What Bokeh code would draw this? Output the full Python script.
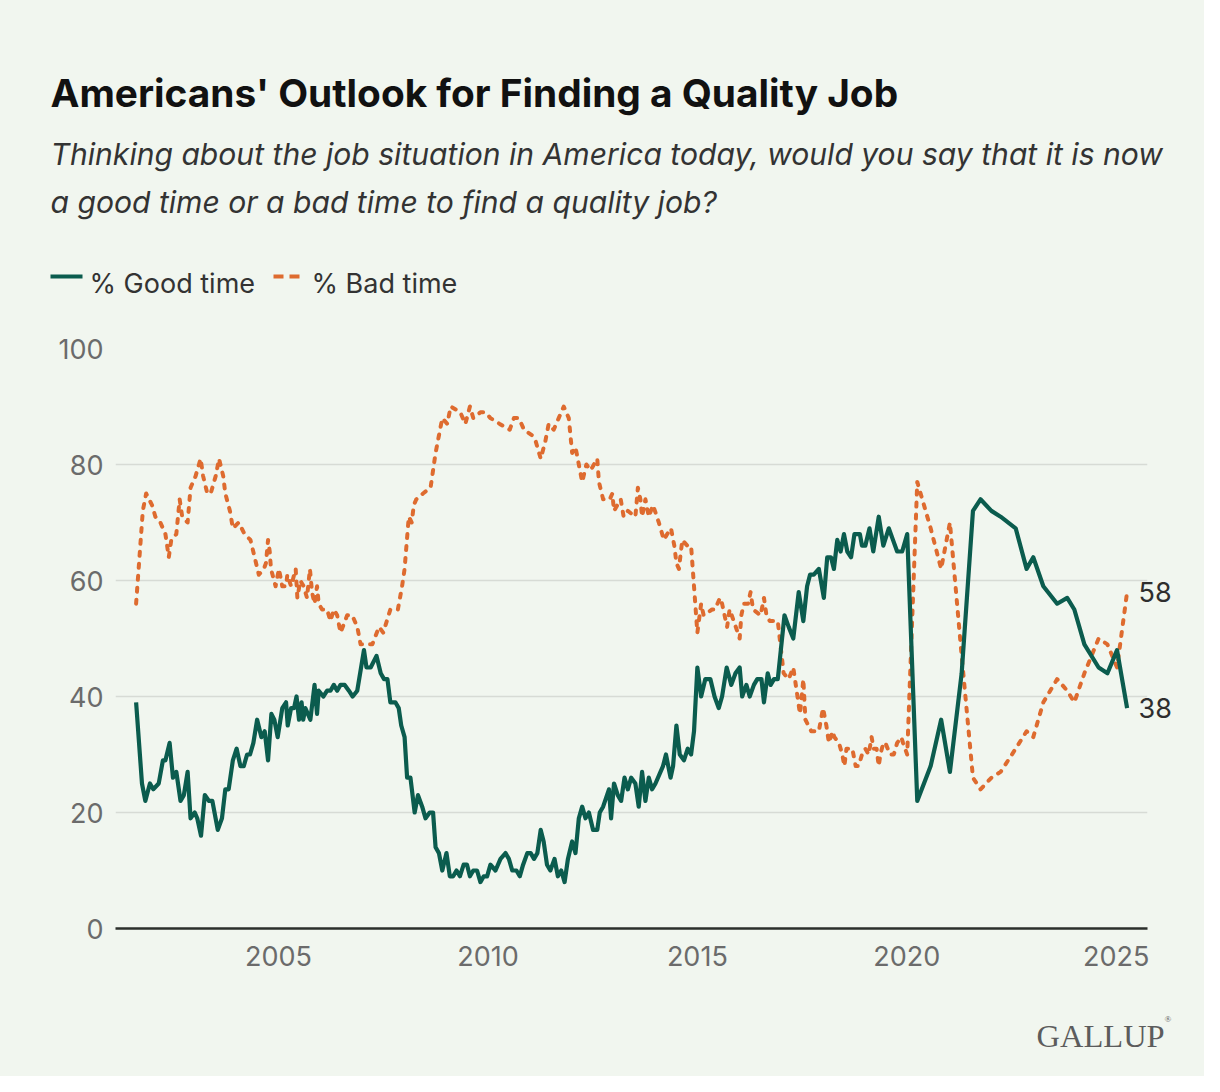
from bokeh.plotting import figure
from bokeh.layouts import column
from bokeh.models import Range1d, FixedTicker, Label, Arrow, LinearAxis
from bokeh.embed import file_html
from bokeh.resources import INLINE

# ---------------- data ----------------
good_year = [2001.60, 2001.74, 2001.82, 2001.93, 2002.01, 2002.14, 2002.24, 2002.30, 2002.40, 2002.48,
             2002.56, 2002.66, 2002.74, 2002.83, 2002.90, 2003.00, 2003.06, 2003.15, 2003.24, 2003.34,
             2003.42, 2003.55, 2003.65, 2003.73, 2003.81, 2003.91, 2004.00, 2004.09, 2004.17, 2004.25,
             2004.32, 2004.40, 2004.49, 2004.59, 2004.67, 2004.75, 2004.83, 2004.90, 2004.98, 2005.09,
             2005.18, 2005.22, 2005.30, 2005.37, 2005.43, 2005.49, 2005.55, 2005.59, 2005.64, 2005.70,
             2005.76, 2005.86, 2005.92, 2005.96, 2006.07, 2006.16, 2006.24, 2006.32, 2006.40, 2006.48,
             2006.58, 2006.68, 2006.77, 2006.88, 2007.04, 2007.10, 2007.20, 2007.34, 2007.44, 2007.52,
             2007.60, 2007.67, 2007.79, 2007.87, 2007.93, 2008.01, 2008.07, 2008.15, 2008.25, 2008.33,
             2008.43, 2008.51, 2008.61, 2008.69, 2008.75, 2008.83, 2008.91, 2009.01, 2009.09, 2009.17,
             2009.25, 2009.33, 2009.42, 2009.50, 2009.57, 2009.65, 2009.74, 2009.82, 2009.90, 2009.98,
             2010.06, 2010.18, 2010.30, 2010.42, 2010.50, 2010.58, 2010.68, 2010.76, 2010.84, 2010.94,
             2011.02, 2011.10, 2011.18, 2011.26, 2011.33, 2011.41, 2011.49, 2011.59, 2011.67, 2011.75,
             2011.83, 2011.91, 2012.01, 2012.09, 2012.17, 2012.25, 2012.33, 2012.41, 2012.51, 2012.61,
             2012.67, 2012.75, 2012.89, 2012.94, 2013.01, 2013.10, 2013.18, 2013.26, 2013.34, 2013.42,
             2013.52, 2013.60, 2013.68, 2013.76, 2013.84, 2013.92, 2014.00, 2014.12, 2014.18, 2014.25,
             2014.36, 2014.42, 2014.50, 2014.58, 2014.68, 2014.77, 2014.85, 2014.92, 2015.00, 2015.09,
             2015.19, 2015.31, 2015.41, 2015.51, 2015.59, 2015.70, 2015.81, 2015.91, 2016.01, 2016.07,
             2016.17, 2016.25, 2016.35, 2016.43, 2016.53, 2016.59, 2016.68, 2016.75, 2016.83, 2016.92,
             2017.08, 2017.18, 2017.29, 2017.42, 2017.53, 2017.62, 2017.69, 2017.78, 2017.90, 2018.02,
             2018.10, 2018.19, 2018.26, 2018.34, 2018.42, 2018.50, 2018.58, 2018.67, 2018.75, 2018.88,
             2018.93, 2019.01, 2019.11, 2019.20, 2019.33, 2019.44, 2019.57, 2019.67, 2019.77, 2019.89,
             2020.01, 2020.25, 2020.57, 2020.82, 2021.03, 2021.31, 2021.58, 2021.76, 2022.02, 2022.24,
             2022.60, 2022.86, 2023.02, 2023.26, 2023.59, 2023.83, 2024.00, 2024.24, 2024.58, 2024.79,
             2025.02, 2025.26]
good_pct = [39, 25, 22, 25, 24, 25, 29, 29, 32, 26,
            27, 22, 23, 27, 19, 20, 19, 16, 23, 22,
            22, 17, 19, 24, 24, 29, 31, 28, 28, 30,
            30, 32, 36, 33, 34, 29, 37, 36, 33, 38,
            39, 35, 38, 38, 40, 36, 39, 36, 38, 37,
            36, 42, 37, 41, 40, 41, 41, 42, 41, 42,
            42, 41, 40, 41, 48, 45, 45, 47, 44, 43,
            43, 39, 39, 38, 35, 33, 26, 26, 20, 23,
            21, 19, 20, 20, 14, 13, 10, 13, 9, 9,
            10, 9, 11, 11, 9, 10, 10, 8, 9, 9,
            11, 10, 12, 13, 12, 10, 10, 9, 11, 13,
            13, 12, 13, 17, 15, 11, 10, 12, 9, 10,
            8, 12, 15, 13, 19, 21, 19, 20, 17, 17,
            20, 21, 24, 19, 25, 23, 22, 26, 24, 26,
            25, 21, 27, 22, 26, 24, 25, 27, 28, 30,
            26, 28, 35, 30, 29, 31, 30, 34, 45, 40,
            43, 43, 40, 38, 40, 45, 42, 44, 45, 40,
            42, 40, 42, 43, 43, 39, 44, 42, 43, 43,
            54, 52, 50, 58, 53, 59, 61, 61, 62, 57,
            64, 64, 62, 67, 65, 68, 65, 64, 68, 68,
            66, 66, 69, 65, 71, 66, 69, 67, 65, 65,
            68, 22, 28, 36, 27, 44, 72, 74, 72, 71,
            69, 62, 64, 59, 56, 57, 55, 49, 45, 44,
            48, 38]

bad_year = [2001.60, 2001.76, 2001.84, 2001.98, 2002.06, 2002.18, 2002.30, 2002.38, 2002.44, 2002.56,
            2002.64, 2002.70, 2002.83, 2002.90, 2003.02, 2003.14, 2003.20, 2003.30, 2003.38, 2003.50,
            2003.58, 2003.68, 2003.73, 2003.84, 2003.91, 2004.05, 2004.19, 2004.33, 2004.43, 2004.53,
            2004.65, 2004.70, 2004.75, 2004.79, 2004.82, 2004.93, 2005.01, 2005.09, 2005.18, 2005.21,
            2005.30, 2005.41, 2005.45, 2005.52, 2005.60, 2005.68, 2005.75, 2005.80, 2005.86, 2005.92,
            2005.96, 2006.04, 2006.16, 2006.24, 2006.32, 2006.40, 2006.48, 2006.64, 2006.76, 2006.88,
            2006.96, 2007.12, 2007.24, 2007.40, 2007.50, 2007.67, 2007.85, 2007.95, 2008.01, 2008.11,
            2008.18, 2008.23, 2008.29, 2008.45, 2008.63, 2008.75, 2008.83, 2008.91, 2009.03, 2009.11,
            2009.34, 2009.46, 2009.57, 2009.65, 2009.82, 2009.94, 2010.06, 2010.28, 2010.52, 2010.62,
            2010.74, 2010.86, 2011.06, 2011.14, 2011.26, 2011.37, 2011.45, 2011.57, 2011.69, 2011.81,
            2011.93, 2012.01, 2012.09, 2012.17, 2012.25, 2012.35, 2012.45, 2012.61, 2012.65, 2012.75,
            2012.91, 2012.97, 2013.01, 2013.17, 2013.24, 2013.34, 2013.52, 2013.58, 2013.64, 2013.68,
            2013.76, 2013.84, 2013.94, 2014.08, 2014.20, 2014.28, 2014.37, 2014.45, 2014.50, 2014.56,
            2014.64, 2014.76, 2014.85, 2015.00, 2015.09, 2015.15, 2015.35, 2015.42, 2015.54, 2015.59,
            2015.65, 2015.71, 2015.77, 2015.87, 2016.01, 2016.05, 2016.11, 2016.21, 2016.27, 2016.33,
            2016.51, 2016.59, 2016.65, 2016.73, 2016.83, 2016.92, 2017.06, 2017.18, 2017.29, 2017.37,
            2017.45, 2017.53, 2017.58, 2017.72, 2017.90, 2018.00, 2018.08, 2018.14, 2018.23, 2018.27,
            2018.38, 2018.46, 2018.51, 2018.56, 2018.70, 2018.78, 2018.85, 2018.93, 2019.01, 2019.09,
            2019.16, 2019.21, 2019.28, 2019.33, 2019.37, 2019.44, 2019.49, 2019.60, 2019.69, 2019.77,
            2019.87, 2019.91, 2020.01, 2020.25, 2020.57, 2020.82, 2021.03, 2021.31, 2021.58, 2021.76,
            2022.02, 2022.24, 2022.60, 2022.86, 2023.02, 2023.26, 2023.59, 2023.83, 2024.00, 2024.24,
            2024.58, 2024.79, 2025.02, 2025.26]
bad_pct = [56, 72, 75, 73, 71, 70, 68, 64, 67, 68,
           74, 71, 70, 76, 78, 81, 78, 75, 75, 78,
           81, 78, 75, 72, 69, 70, 68, 67, 64, 61,
           62, 63, 67, 65, 62, 59, 62, 59, 59, 61,
           59, 62, 57, 60, 59, 57, 62, 58, 56, 59,
           56, 55, 55, 53, 55, 54, 51, 54, 54, 52,
           49, 49, 49, 52, 51, 55, 55, 59, 62, 71,
           70, 73, 74, 75, 76, 82, 85, 88, 87, 90,
           89, 87, 90, 88, 89, 89, 88, 87, 86, 88,
           88, 86, 85, 84, 81, 84, 87, 86, 88, 90,
           88, 82, 83, 80, 77, 80, 79, 81, 77, 74,
           74, 75, 72, 74, 71, 72, 71, 76, 74, 71,
           74, 71, 73, 70, 67, 68, 69, 66, 63, 62,
           67, 66, 66, 51, 56, 54, 55, 55, 57, 56,
           54, 52, 55, 53, 50, 54, 56, 56, 58, 55,
           54, 57, 54, 53, 53, 53, 44, 43, 45, 41,
           37, 43, 36, 34, 34, 38, 35, 32, 34, 33,
           32, 30, 28, 31, 31, 28, 28, 30, 31, 30,
           33, 31, 31, 28, 30, 32, 32, 30, 30, 32,
           33, 32, 30, 77, 69, 62, 70, 47, 26, 24,
           26, 27, 31, 34, 33, 39, 43, 41, 39, 44,
           50, 49, 45, 58]

x_ticks = [2005, 2010, 2015, 2020, 2025]
y_ticks = [0, 20, 40, 60, 80, 100]

title_text = "Americans' Outlook for Finding a Quality Job"
subtitle_lines = ["Thinking about the job situation in America today, would you say that it is now",
                  "a good time or a bad time to find a quality job?"]
legend_labels = ["% Good time", "% Bad time"]
brand = "GALLUP"

# ---------------- style ----------------
BG = "#f1f6ef"
GREEN = "#0b5c4e"
ORANGE = "#de6b2f"
FONT = "Inter"
W = 1204
H_HEAD, H_MAIN, H_FOOT = 310, 690, 76


def no_align(f):
    try:
        f.frame_align = False
    except Exception:
        pass


def blank(height):
    f = figure(width=W, height=height, output_backend="svg", toolbar_location=None, title=None,
               x_axis_type=None, y_axis_type=None, min_border=0,
               x_range=Range1d(0, W), y_range=Range1d(height, 0))
    f.background_fill_color = BG
    f.border_fill_color = BG
    f.outline_line_color = None
    no_align(f)
    return f


# ---------------- header: title, subtitle, legend ----------------
head = blank(H_HEAD)
head.add_layout(Label(x=50, y=92, text=title_text, text_font=FONT, text_font_style="bold",
                      text_font_size="38.8px", text_color="#111111", text_baseline="alphabetic"))
for i, line in enumerate(subtitle_lines):
    head.add_layout(Label(x=50, y=153 + 48 * i, text=line, text_font=FONT, text_font_style="italic",
                          text_font_size="30.1px", text_color="#333333", text_baseline="alphabetic"))
head.add_layout(Arrow(end=None, x_start=50, y_start=276, x_end=82, y_end=276,
                      line_color=GREEN, line_width=4))
head.add_layout(Arrow(end=None, x_start=273, y_start=276, x_end=299, y_end=276,
                      line_color=ORANGE, line_width=4, line_dash="10 6"))
head.add_layout(Label(x=89, y=283, text=legend_labels[0], text_font=FONT, text_font_size="27px",
                      text_color="#333333", text_baseline="alphabetic"))
head.add_layout(Label(x=311, y=283, text=legend_labels[1], text_font=FONT, text_font_size="27px",
                      text_color="#333333", text_baseline="alphabetic"))

# ---------------- main chart ----------------
p = figure(width=W, height=H_MAIN, output_backend="svg", toolbar_location=None, title=None,
           x_range=Range1d(2001.108, 2025.747), y_range=Range1d(0, 100),
           min_border_left=115, min_border_right=57, min_border_top=38, min_border_bottom=72)
p.background_fill_color = BG
p.border_fill_color = BG
p.outline_line_color = None
no_align(p)

p.xaxis.ticker = FixedTicker(ticks=x_ticks)
p.yaxis.ticker = FixedTicker(ticks=y_ticks)
for ax in (p.xaxis, p.yaxis):
    ax.major_tick_line_color = None
    ax.minor_tick_line_color = None
    ax.major_tick_out = 0
    ax.major_tick_in = 0
    ax.minor_tick_out = 0
    ax.major_label_text_font = FONT
    ax.major_label_text_font_size = "27px"
    ax.major_label_text_color = "#6b6b6b"
p.xaxis.axis_line_color = "#2b2f2b"
p.xaxis.axis_line_width = 2.5
p.xaxis.major_label_standoff = 17
p.yaxis.axis_line_color = None
p.yaxis.major_label_standoff = 12

p.xgrid.grid_line_color = None
p.ygrid.grid_line_color = "#d7dbd5"
p.ygrid.grid_line_width = 1.5

p.line(bad_year, bad_pct, line_color=ORANGE, line_width=4, line_dash="4 8", line_cap="round",
       line_join="round")
p.line(good_year, good_pct, line_color=GREEN, line_width=4.2, line_join="round")

# end-value labels as a right axis whose ticks sit at the last values
end_axis = LinearAxis(ticker=FixedTicker(ticks=[bad_pct[-1], good_pct[-1]]),
                      axis_line_color=None, major_tick_line_color=None, minor_tick_line_color=None,
                      major_tick_out=0, major_tick_in=0, minor_tick_out=0,
                      major_label_standoff=-9, major_label_text_font=FONT,
                      major_label_text_font_size="27px", major_label_text_color="#2e2e2e")
p.add_layout(end_axis, "right")

# ---------------- footer: brand ----------------
foot = blank(H_FOOT)
foot.add_layout(Label(x=1036, y=35, text=brand, text_font="Liberation Serif",
                      text_font_size="32.5px", text_color="#5c5c5c", text_baseline="alphabetic"))
foot.add_layout(Label(x=1164, y=18, text="\u00ae", text_font="Liberation Serif",
                      text_font_size="9px", text_color="#5c5c5c", text_baseline="alphabetic"))

layout = column(head, p, foot, spacing=0, styles={"background-color": BG})
open("out.html", "w").write(file_html(layout, INLINE))
